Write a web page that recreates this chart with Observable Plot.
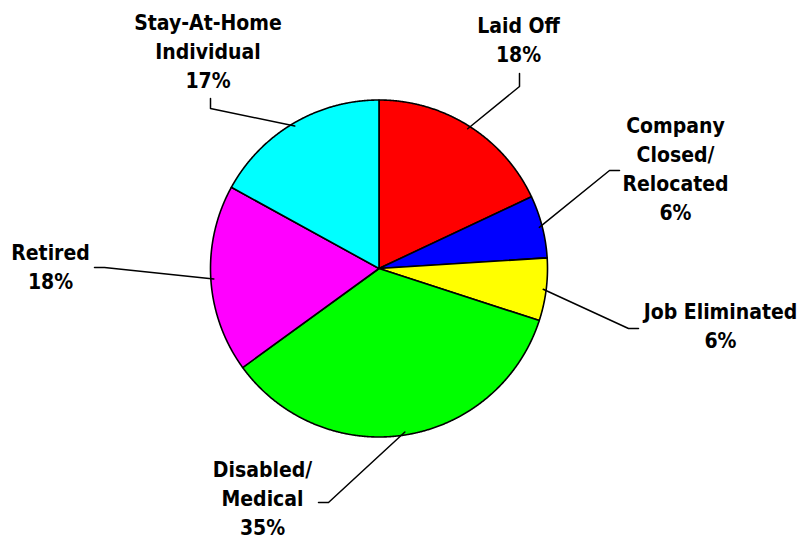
<!DOCTYPE html>
<html><head><meta charset="utf-8">
<script src="https://cdn.jsdelivr.net/npm/d3@7"></script>
<script src="https://cdn.jsdelivr.net/npm/@observablehq/plot@0.6"></script>
<style>body{margin:0;background:#fff}svg{display:block}</style>
</head><body><div id="chart"></div>
<script>
// ---- data ----
const categories = ["Laid Off", "Company Closed/Relocated", "Job Eliminated", "Disabled/Medical", "Retired", "Stay-At-Home Individual"];
const labelLines = ["Laid Off", "Company\nClosed/\nRelocated", "Job Eliminated", "Disabled/\nMedical", "Retired", "Stay-At-Home\nIndividual"];
const values = [18, 6, 6, 35, 18, 17];
const colors = ["#ff0000", "#0000ff", "#ffff00", "#00ff00", "#ff00ff", "#00ffff"];

// ---- layout (pixel space) ----
const W = 804, H = 542, cx = 378.5, cy = 268, R = 168.5;
const labelPos = [[518, 38], [675, 166.5], [720, 324], [262, 496.5], [50, 265], [207.5, 48.8]];
const elbows = [
  [[519, 86], [519, 73]],
  [[609, 170], [619, 170]],
  [[628, 328], [638, 328]],
  [[328, 502], [318, 502]],
  [[104, 267], [94, 267]],
  [[210, 108], [210, 98]]
];

const arcs = d3.pie().sort(null)(values);
const pt = (a, r) => [cx + r * Math.sin(a), cy - r * Math.cos(a)];

const slicePts = [];
arcs.forEach((a, i) => {
  const c = categories[i];
  slicePts.push({c, x: cx, y: cy});
  const n = Math.max(2, Math.ceil((a.endAngle - a.startAngle) / (Math.PI / 720)));
  for (let k = 0; k <= n; k++) {
    const ang = a.startAngle + (a.endAngle - a.startAngle) * k / n;
    const [x, y] = pt(ang, R);
    slicePts.push({c, x, y});
  }
  slicePts.push({c, x: cx, y: cy});
});

const leaderPts = [];
arcs.forEach((a, i) => {
  const c = categories[i];
  const mid = (a.startAngle + a.endAngle) / 2;
  const [x0, y0] = pt(mid, R - 3);
  leaderPts.push({c, x: x0, y: y0});
  elbows[i].forEach(([x, y]) => leaderPts.push({c, x, y}));
});

const labelData = categories.map((c, i) => ({
  c, x: labelPos[i][0], y: labelPos[i][1],
  text: labelLines[i] + "\n" + values[i] + "%"
}));

const chart = Plot.plot({
  width: W, height: H,
  margin: 0,
  x: {domain: [0, W], range: [0, W], axis: null},
  y: {domain: [0, H], range: [0, H], axis: null},
  color: {domain: categories, range: colors},
  style: {background: "#fff"},
  marks: [
    Plot.line(slicePts, {x: "x", y: "y", z: "c", fill: "c", stroke: "#000", strokeWidth: 1.6, strokeLinejoin: "round", curve: "linear"}),
    Plot.line(leaderPts, {x: "x", y: "y", z: "c", stroke: "#000", strokeWidth: 1.5, curve: "linear"}),
    Plot.text(labelData, {x: "x", y: "y", text: "text", textAnchor: "middle", lineAnchor: "middle",
      lineHeight: 1.38, fontSize: 21, fontWeight: "bold",
      fontFamily: "'DejaVu Sans Condensed', 'DejaVu Sans', sans-serif", fill: "#000"})
  ]
});
document.getElementById("chart").appendChild(chart);
</script>
</body></html>
